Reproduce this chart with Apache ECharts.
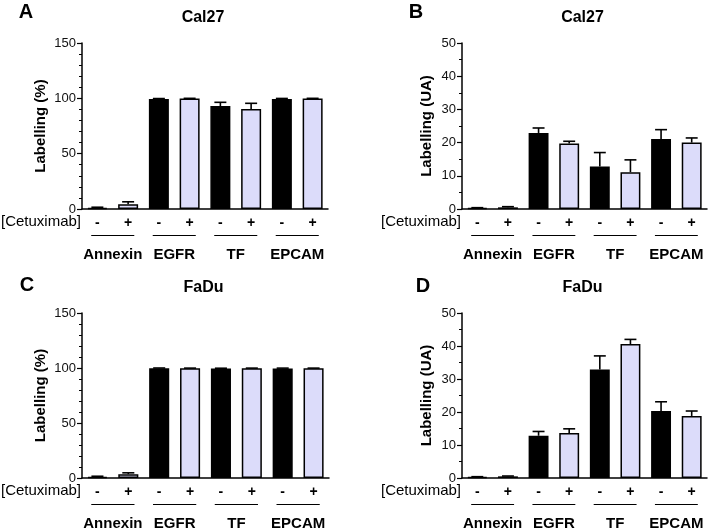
<!DOCTYPE html>
<html><head><meta charset="utf-8">
<script src="https://cdn.jsdelivr.net/npm/echarts@6/dist/echarts.min.js"></script>
<style>html,body{margin:0;padding:0;background:#fff}#c{width:709px;height:531px}</style>
</head><body><div id="c"></div>
<script>
const groups = ['Annexin', 'EGFR', 'TF', 'EPCAM'];
const signs = ['-', '+'];
const treatmentLabel = '[Cetuximab]';
const panelLetters = ['A', 'B', 'C', 'D'];
const panelTitles = ['Cal27', 'Cal27', 'FaDu', 'FaDu'];
const yNames = ['Labelling (%)', 'Labelling (UA)', 'Labelling (%)', 'Labelling (UA)'];
const yMax = [150, 50, 150, 50];
const yInterval = [50, 10, 50, 10];
// order: Annexin-, Annexin+, EGFR-, EGFR+, TF-, TF+, EPCAM-, EPCAM+
const valuesA = [1.0, 4.2, 99.4, 99.8, 93.0, 90.3, 99.4, 99.8];
const errorsA = [0.6, 2.3, 0.4, 0.2, 3.4, 5.2, 0.5, 0.2];
const valuesB = [0.3, 0.5, 22.9, 19.7, 12.8, 11.1, 21.1, 20.0];
const errorsB = [0.1, 0.2, 1.5, 0.7, 4.2, 3.7, 2.8, 1.4];
const valuesC = [1.1, 3.5, 99.8, 99.8, 99.6, 99.8, 99.6, 99.8];
const errorsC = [0.5, 1.2, 0.2, 0.1, 0.2, 0.1, 0.3, 0.1];
const valuesD = [0.3, 0.5, 12.8, 13.6, 32.9, 40.6, 20.3, 18.8];
const errorsD = [0.1, 0.1, 1.3, 1.3, 4.1, 1.4, 2.8, 1.5];

const panelValues = [valuesA, valuesB, valuesC, valuesD];
const panelErrors = [errorsA, errorsB, errorsC, errorsD];
const categories = [];
groups.forEach(g => signs.forEach(s => categories.push(g + ' ' + s)));

const FONT = "'Liberation Sans', Arial, sans-serif";
const grids = [
  {left: 82, top: 43, width: 246, height: 166},
  {left: 462, top: 43, width: 245, height: 166},
  {left: 82, top: 313, width: 247, height: 165},
  {left: 462, top: 313, width: 245, height: 165}
];
const nameGaps = [34, 28, 34, 28];
const colors = ['#000000', '#dcdcfa'];

const chart = echarts.init(document.getElementById('c'), null, {renderer: 'canvas'});
const xAxes = [], yAxes = [], series = [];
grids.forEach((g, k) => {
  xAxes.push({
    type: 'category', gridIndex: k, data: categories,
    axisLine: {lineStyle: {color: '#000', width: 1.5}},
    axisTick: {alignWithLabel: true, interval: 0, length: 4, lineStyle: {color: '#000', width: 1.2}},
    axisLabel: {interval: 0, margin: 7, color: '#000', fontFamily: FONT, fontSize: 14, fontWeight: 'bold',
      formatter: v => v.slice(v.length - 1)},
    splitLine: {show: false}
  });
  xAxes.push({
    type: 'category', gridIndex: k, data: groups, position: 'bottom',
    axisLine: {show: false}, axisTick: {show: false},
    axisLabel: {interval: 0, margin: 38, color: '#000', fontFamily: FONT, fontSize: 15, fontWeight: 'bold'},
    splitLine: {show: false}
  });
  yAxes.push({
    type: 'value', gridIndex: k, min: 0, max: yMax[k], interval: yInterval[k],
    name: yNames[k], nameLocation: 'middle', nameGap: nameGaps[k],
    nameTextStyle: {color: '#000', fontFamily: FONT, fontSize: 15, fontWeight: 'bold'},
    axisLine: {show: true, lineStyle: {color: '#000', width: 1.5}},
    axisTick: {show: true, length: 5, lineStyle: {color: '#000', width: 1.2}},
    minorTick: {show: true, splitNumber: yMax[k] === 150 ? 5 : 2, length: 3, lineStyle: {color: '#000', width: 1}},
    axisLabel: {margin: 6, color: '#111', fontFamily: FONT, fontSize: 13},
    splitLine: {show: false}
  });
  series.push({
    type: 'bar', xAxisIndex: 2 * k, yAxisIndex: k, barWidth: '65%',
    data: panelValues[k].map((v, i) => ({value: v, itemStyle: {color: colors[i % 2]}})),
    itemStyle: {borderColor: '#000', borderWidth: 1.5},
    animation: false
  });
  series.push({
    type: 'custom', xAxisIndex: 2 * k, yAxisIndex: k,
    data: panelValues[k].map((v, i) => [i, v, panelErrors[k][i]]),
    encode: {x: 0, y: 1},
    renderItem: (params, api) => {
      const x = api.value(0), v = api.value(1), e = api.value(2);
      const b = api.coord([x, v]);
      const t = api.coord([x, v + e]);
      const bw = api.size([1, 0])[0];
      const hw = bw * 0.65 * 0.3;
      const st = {stroke: '#000', lineWidth: 1.6};
      return {type: 'group', children: [
        {type: 'line', shape: {x1: b[0], y1: b[1], x2: t[0], y2: t[1]}, style: st},
        {type: 'line', shape: {x1: t[0] - hw, y1: t[1], x2: t[0] + hw, y2: t[1]}, style: st}
      ]};
    },
    z: 3, animation: false
  });
});

chart.setOption({
  animation: false,
  grid: grids,
  xAxis: xAxes,
  yAxis: yAxes,
  series: series
});

// decorations derived from the axes
const graphics = [];
const letterPos = [[26, 12], [416, 12], [27, 285], [423, 286]];
grids.forEach((g, k) => {
  const axisY = g.top + g.height;
  const cx = g.left + g.width / 2;
  graphics.push({type: 'text', x: letterPos[k][0], y: letterPos[k][1],
    style: {text: panelLetters[k], font: 'bold 20px ' + FONT, fill: '#000', align: 'center', verticalAlign: 'middle'}});
  graphics.push({type: 'text', x: cx - 2, y: g.top - 25,
    style: {text: panelTitles[k], font: 'bold 16px ' + FONT, fill: '#000', align: 'center', verticalAlign: 'middle'}});
  graphics.push({type: 'text', x: g.left - 1, y: axisY + 13,
    style: {text: treatmentLabel, font: '15px ' + FONT, fill: '#000', align: 'right', verticalAlign: 'middle'}});
  const bw = chart.convertToPixel({xAxisIndex: 2 * k}, 1) - chart.convertToPixel({xAxisIndex: 2 * k}, 0);
  groups.forEach((gr, j) => {
    const x1 = chart.convertToPixel({xAxisIndex: 2 * k}, 2 * j) - bw * 0.2;
    const x2 = chart.convertToPixel({xAxisIndex: 2 * k}, 2 * j + 1) + bw * 0.2;
    graphics.push({type: 'line', shape: {x1: x1, y1: axisY + 26.5, x2: x2, y2: axisY + 26.5},
      style: {stroke: '#000', lineWidth: 1.2}});
  });
});
chart.setOption({graphic: graphics});
</script></body></html>
